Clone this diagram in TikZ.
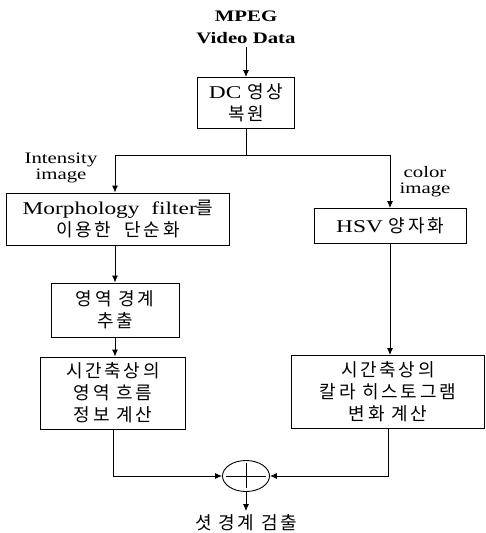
\documentclass[tikz,border=0pt]{standalone}
\usepackage{fontspec}
\setmainfont{Liberation Serif}[FakeStretch=1.3]
\newfontfamily\kr[Scale=1.0,LetterSpace=15]{Noto Sans CJK KR}
\usetikzlibrary{shapes.geometric,arrows.meta}

\begin{document}
\begin{tikzpicture}[%
    x=1pt, y=-1pt,
    line width=0.9pt,
    >={Latex[length=7pt,width=6pt]},
    every node/.style={
        font=\fontsize{18}{22}\selectfont,
        align=center,
    },
    procbox/.style={draw, inner sep=0pt},
    sidelabel/.style={font=\fontsize{16}{16}\selectfont},
]
\useasboundingbox (0,0) rectangle (485,533);

% input and first box
\node[font=\bfseries\fontsize{16}{22}\selectfont] (mpeg) at (246,27) {MPEG\\Video Data};
\node[procbox, minimum width=97, minimum height=51] (dc) at (246,103)
    {DC {\kr 영상}\\{\kr 복원}};
\draw[->] (mpeg) -- (dc);

% left column
\node[procbox, minimum width=223, minimum height=52] (morph) at (118,219)
    {Morphology\ \ filter{\kr 를}\\{\kr 이용한\ \ 단순화}};
\node[procbox, minimum width=128, minimum height=54] (edge) at (115,310)
    {{\kr 영역 경계}\\{\kr 추출}};
\node[procbox, minimum width=145, minimum height=72] (flow) at (113,393)
    {{\kr 시간축상의}\\{\kr 영역 흐름}\\{\kr 정보 계산}};

% right column
\node[procbox, minimum width=152, minimum height=35] (hsv) at (390,226)
    {HSV {\kr 양자화}};
\node[procbox, minimum width=193, minimum height=73] (hist) at (388,392)
    {{\kr 시간축상의}\\{\kr 칼라 히스토그램}\\{\kr 변화 계산}};

% branch labels
\node[sidelabel] (intlbl) at (61,168) {Intensity\\image};
\node[sidelabel] (collbl) at (425,182) {color\\image};

% combine and output
\node[draw, ellipse, minimum width=47, minimum height=31, inner sep=0pt] (sum) at (246,476) {};
\draw ([xshift=4pt]sum.west) -- ([xshift=-4pt]sum.east);
\draw ([yshift=-3pt]sum.north) -- ([yshift=4pt]sum.south);
\node (shot) at (246,523) {\kr 셧 경계 검출};

% connectors
\coordinate (lbend) at (115,155);
\coordinate (rbend) at (390,155);
\draw[->] (dc.south) |- (lbend) -- (lbend |- morph.north);
\draw[->] (dc.south) |- (rbend) -- (hsv);
\draw[->] (edge.north |- morph.south) -- (edge.north);
\draw[->] (edge.south) -- (edge.south |- flow.north);
\draw[->] (hsv.south) -- (hist.north -| hsv.south);
\draw[->] (flow.south) |- (sum.west);
\draw[->] (hist.south) |- (sum.east);
\draw[->] (sum.south) -- (shot.north);

\end{tikzpicture}
\end{document}
